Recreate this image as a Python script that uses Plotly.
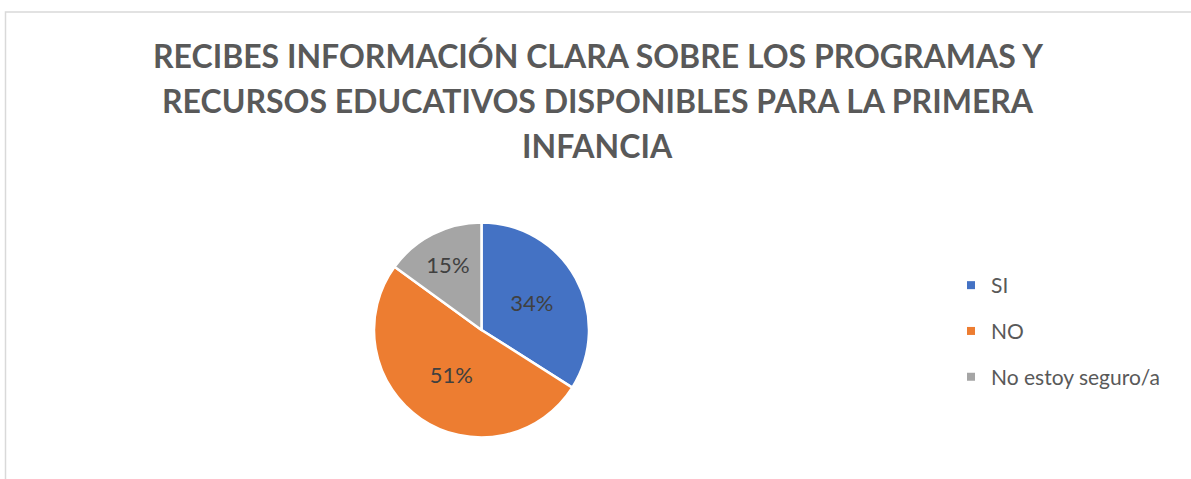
import plotly.graph_objects as go

categories = ["SI", "NO", "No estoy seguro/a"]
values = [34, 51, 15]
colors = ["#4472C4", "#ED7D31", "#A5A5A5"]
title_lines = [
    "RECIBES INFORMACIÓN CLARA SOBRE LOS PROGRAMAS Y",
    "RECURSOS EDUCATIVOS DISPONIBLES PARA LA PRIMERA",
    "INFANCIA",
]

W, H = 1191, 479
cx, cy, r = 481.5, 330, 107.5

fig = go.Figure()
fig.add_trace(go.Pie(
    labels=categories, values=values, sort=False, direction="clockwise", rotation=0,
    marker=dict(colors=colors, line=dict(color="white", width=2.5)),
    texttemplate="%{percent:.0%}", textposition="inside", insidetextorientation="horizontal",
    textfont=dict(family="Lato", size=22, color="#404040"),
    showlegend=False, hoverinfo="label+percent",
    domain=dict(x=[(cx - r) / W, (cx + r) / W], y=[1 - (cy + r) / H, 1 - (cy - r) / H]),
))

# legend entries
for cat, col in zip(categories, colors):
    fig.add_trace(go.Scatter(
        x=[None], y=[None], mode="markers", name=cat, legendgroup=cat,
        marker=dict(symbol="square", size=8, color=col),
    ))

line_y = [56, 100.5, 145]
for txt, yy in zip(title_lines, line_y):
    fig.add_annotation(
        text="<b>%s</b>" % txt, x=597.5 / W, y=1 - yy / H, xref="paper", yref="paper",
        xanchor="center", yanchor="middle", showarrow=False,
        font=dict(family="Lato", size=32, color="#595959"),
    )

fig.add_shape(type="rect", xref="paper", yref="paper",
              x0=5.5 / W, x1=1.02, y0=-0.05, y1=1 - 12 / H,
              line=dict(color="#D9D9D9", width=1.5), fillcolor="rgba(0,0,0,0)", layer="below")

fig.update_layout(
    width=W, height=H, margin=dict(l=0, r=0, t=0, b=0),
    paper_bgcolor="white", plot_bgcolor="white",
    xaxis=dict(visible=False), yaxis=dict(visible=False),
    legend=dict(x=(972 - 21) / W, y=1 - 265 / H, xanchor="left", yanchor="top",
                font=dict(family="Lato", size=21, color="#595959"),
                tracegroupgap=15.5, bgcolor="rgba(0,0,0,0)"),
)

fig.write_html("out.html", config={"displayModeBar": False},
               post_script="document.body.style.margin='0';document.body.style.overflow='hidden';")
